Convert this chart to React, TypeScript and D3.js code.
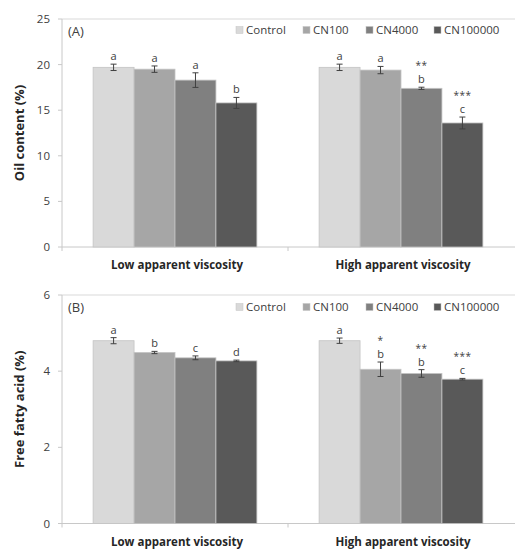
import React from "react";
import * as d3 from "d3";

const categories = ["Low apparent viscosity", "High apparent viscosity"];
const series = ["Control", "CN100", "CN4000", "CN100000"];
const colors = ["#d9d9d9", "#a6a6a6", "#808080", "#595959"];

// Panel A: Oil content (%)
const oilValues = [
  [19.7, 19.5, 18.3, 15.8],
  [19.7, 19.4, 17.4, 13.6],
];
const oilErrors = [
  [0.35, 0.35, 0.8, 0.6],
  [0.35, 0.4, 0.12, 0.65],
];
const oilLetters = [
  ["a", "a", "a", "b"],
  ["a", "a", "b", "c"],
];
const oilStars = [
  ["", "", "", ""],
  ["", "", "**", "***"],
];
const oilTicks = [0, 5, 10, 15, 20, 25];

// Panel B: Free fatty acid (%)
const ffaValues = [
  [4.8, 4.49, 4.35, 4.27],
  [4.8, 4.05, 3.94, 3.79],
];
const ffaErrors = [
  [0.08, 0.03, 0.05, 0.02],
  [0.07, 0.19, 0.1, 0.02],
];
const ffaLetters = [
  ["a", "b", "c", "d"],
  ["a", "b", "b", "c"],
];
const ffaStars = [
  ["", "", "", ""],
  ["", "*", "**", "***"],
];
const ffaTicks = [0, 2, 4, 6];

const FONT = "'Open Sans', 'Noto Sans', sans-serif";

type PanelProps = {
  top: number;
  bottom: number;
  max: number;
  ticks: number[];
  values: number[][];
  errors: number[][];
  letters: string[][];
  stars: string[][];
  title: string;
  tag: string;
  legendY: number;
};

function Panel(p: PanelProps) {
  const left = 62;
  const right = 514;
  const y = d3.scaleLinear().domain([0, p.max]).range([p.bottom, p.top]);
  const x0 = d3.scaleBand<string>().domain(categories).range([left, right]).paddingInner(0).paddingOuter(0);
  const x1 = d3.scaleBand<string>().domain(series).range([0, x0.bandwidth()]).paddingInner(0).paddingOuter(0.76);
  const bw = x1.bandwidth();

  const legendX = [236, 303, 366, 434];

  return (
    <g fontFamily={FONT}>
      {/* plot top border */}
      <line x1={left} x2={515} y1={p.top} y2={p.top} stroke="#d9d9d9" />
      {/* y axis */}
      <line x1={left} x2={left} y1={p.top} y2={p.bottom} stroke="#c8c8c8" />
      {p.ticks.map((t) => (
        <g key={t}>
          <line x1={left - 4} x2={left} y1={y(t)} y2={y(t)} stroke="#c8c8c8" />
          <text x={50} y={y(t)} dy="0.35em" textAnchor="end" fontSize={11.5} fill="#404040">
            {t}
          </text>
        </g>
      ))}
      {/* x axis */}
      <line x1={left} x2={515} y1={p.bottom} y2={p.bottom} stroke="#c8c8c8" />
      {categories.map((c) => (
        <line key={c} x1={x0(c) as number} x2={x0(c) as number} y1={p.bottom} y2={p.bottom + 4} stroke="#c8c8c8" />
      ))}
      {/* bars */}
      {categories.map((c, ci) =>
        series.map((s, si) => {
          const v = p.values[ci][si];
          const e = p.errors[ci][si];
          const bx = (x0(c) as number) + (x1(s) as number);
          const cx = bx + bw / 2;
          const yTop = y(v + e);
          return (
            <g key={c + s}>
              <rect x={bx} y={y(v)} width={bw} height={p.bottom - y(v)} fill={colors[si]} stroke="#c4c4c4" strokeWidth={0.8} />
              <line x1={cx} x2={cx} y1={y(v - e)} y2={y(v + e)} stroke="#404040" strokeWidth={1} />
              <line x1={cx - 3} x2={cx + 3} y1={y(v - e)} y2={y(v - e)} stroke="#404040" strokeWidth={1} />
              <line x1={cx - 3} x2={cx + 3} y1={y(v + e)} y2={y(v + e)} stroke="#404040" strokeWidth={1} />
              <text x={cx} y={yTop - 4} textAnchor="middle" fontSize={11} fill="#404040">
                {p.letters[ci][si]}
              </text>
              {p.stars[ci][si] && (
                <text x={cx} y={yTop - 18} textAnchor="middle" fontSize={10} fill="#404040" letterSpacing={0.5}>
                  {p.stars[ci][si]}
                </text>
              )}
            </g>
          );
        })
      )}
      {/* tag */}
      <text x={68} y={p.top + 17} fontSize={13} fill="#404040">
        {p.tag}
      </text>
      {/* legend */}
      {series.map((s, i) => (
        <g key={s}>
          <rect x={legendX[i]} y={p.legendY - 3.5} width={7} height={7} fill={colors[i]} stroke="#c4c4c4" strokeWidth={0.5} />
          <text x={legendX[i] + 10} y={p.legendY} dy="0.35em" fontSize={11.5} fill="#404040">
            {s}
          </text>
        </g>
      ))}
      {/* category labels */}
      {categories.map((c) => (
        <text
          key={c}
          x={(x0(c) as number) + x0.bandwidth() / 2 + 2}
          y={p.bottom + 22}
          textAnchor="middle"
          fontSize={11.5}
          fontWeight="bold"
          fill="#262626"
        >
          {c}
        </text>
      ))}
      {/* y title */}
      <text
        transform={`translate(24,${(p.top + p.bottom) / 2}) rotate(-90)`}
        textAnchor="middle"
        fontSize={13}
        fontWeight="bold"
        fill="#262626"
      >
        {p.title}
      </text>
    </g>
  );
}

export default function App() {
  return (
    <svg width={515} height={554} style={{ position: "absolute", left: 0, top: 0, background: "#fff" }}>
      <rect width={515} height={554} fill="#fff" />
      <Panel
        top={19}
        bottom={247}
        max={25}
        ticks={oilTicks}
        values={oilValues}
        errors={oilErrors}
        letters={oilLetters}
        stars={oilStars}
        title="Oil content (%)"
        tag="(A)"
        legendY={30}
      />
      <Panel
        top={295}
        bottom={523.5}
        max={6}
        ticks={ffaTicks}
        values={ffaValues}
        errors={ffaErrors}
        letters={ffaLetters}
        stars={ffaStars}
        title="Free fatty acid (%)"
        tag="(B)"
        legendY={307}
      />
    </svg>
  );
}
